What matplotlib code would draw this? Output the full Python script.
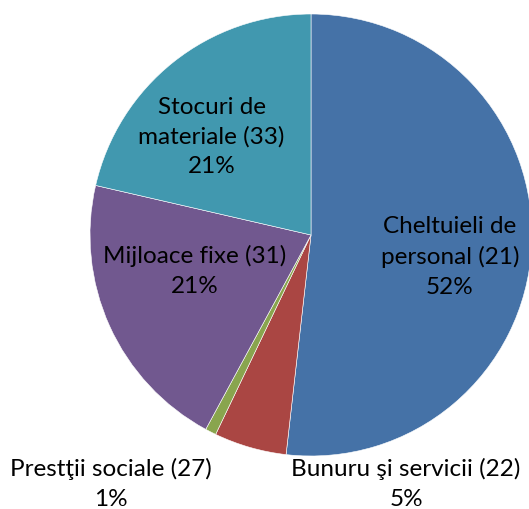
import matplotlib.pyplot as plt

# data
categories = ["Cheltuieli de\npersonal (21)", "Bunuru şi servicii (22)",
              "Prestţii sociale (27)", "Mijloace fixe (31)",
              "Stocuri de\nmateriale (33)"]
shares = [51.8, 5.3, 0.8, 20.7, 21.4]
colors = ["#4572A7", "#AA4643", "#89A54E", "#71588F", "#4198AF"]

# label centres (data coords, radius = 1)
label_pos = [(0.629, -0.10), (0.43, -1.127), (-0.905, -1.127),
             (-0.525, -0.163), (-0.45, 0.443)]

W, H = 529, 509
fig = plt.figure(figsize=(W / 100, H / 100), dpi=100)
cx, cy, r = 311, 235, 221
ax = fig.add_axes([(cx - r) / W, (H - cy - r) / H, 2 * r / W, 2 * r / H])

wedges, _ = ax.pie(shares, colors=colors, startangle=90, counterclock=False,
                   radius=1, wedgeprops=dict(edgecolor="white", linewidth=0.4))
for w in wedges:
    w.set_clip_on(False)

total = sum(shares)
for name, val, (x, y) in zip(categories, shares, label_pos):
    ax.text(x, y, f"{name}\n{round(val / total * 100):.0f}%", ha="center",
            va="center", fontsize=17.5, family="Lato", linespacing=1.5,
            color="black")

ax.set_xlim(-1, 1)
ax.set_ylim(-1, 1)
ax.set_aspect("auto")
ax.axis("off")

fig.savefig("out.png", dpi=100)
